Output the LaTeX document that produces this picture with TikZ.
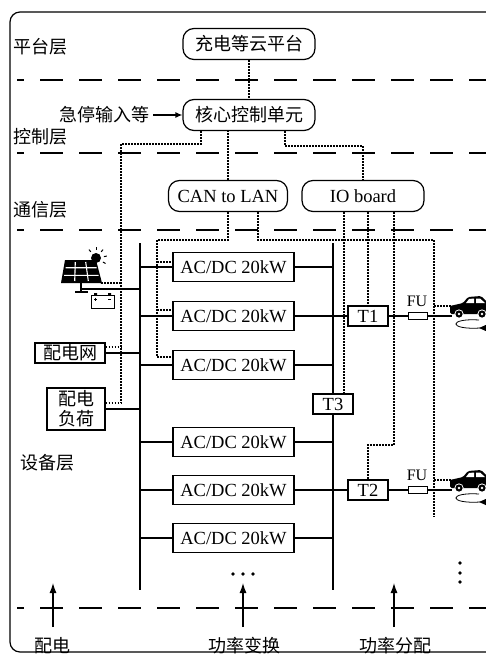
\documentclass[tikz,border=0pt]{standalone}
\usepackage{fontspec}
\setmainfont{Liberation Serif}
\newfontfamily\cjk{Noto Sans CJK SC}
\usetikzlibrary{arrows.meta}

\begin{document}
\begin{tikzpicture}[x=1pt,y=-1pt,
  font=\fontsize{18.5}{20}\selectfont,
  zh/.style={font=\cjk\fontsize{18}{20}\selectfont},
  layer/.style={line width=1.6pt,dash pattern=on 23pt off 16pt,dash phase=16pt},
  cloud/.style={draw,line width=1.2pt,rounded corners=11pt,minimum width=132pt,minimum height=31pt,inner sep=0pt},
  conv/.style={draw,line width=1.2pt,fill=white,minimum width=121pt,minimum height=29pt,inner sep=0pt},
  tbox/.style={draw,line width=1.2pt,fill=white,minimum width=40pt,minimum height=20pt,inner sep=0pt},
  fuse/.style={draw,line width=1pt,fill=white,minimum width=19pt,minimum height=7pt,inner sep=0pt},
  ctrl/.style={line width=1.3pt,dash pattern=on 1.7pt off 1.3pt},
  bus/.style={line width=1.1pt},
  up/.style={line width=1.2pt,-{Latex[length=10pt,width=7pt]}}]
\useasboundingbox (0,0) rectangle (486,658);
\clip (0,0) rectangle (486,658);
\draw[line width=1.2pt,rounded corners=10pt] (10,12) rectangle (530,652);

% layers
\foreach \y in {80,153,230,608}
  \draw[layer] (17,\y) -- (500,\y);
\node[zh] (lplat) at (40.5,47) {平台层};
\node[zh] (lctrl) at (40.5,137) {控制层};
\node[zh] (lcomm) at (40.5,210) {通信层};
\node[zh] (ldev) at (47,463) {设备层};

% platform, control, communication
\node[cloud,zh] (cloud) at (249,44) {充电等云平台};
\node[cloud,zh] (core) at (249,115) {核心控制单元};
\node[zh,anchor=east] (estop) at (153,115) {急停输入等};
\draw[line width=1.2pt,-{Latex[length=7pt,width=6pt]}] (estop) -- (core);
\node[cloud,minimum width=119pt] (can) at (228,196) {CAN to LAN};
\node[cloud,minimum width=122pt] (io) at (363,196) {IO board};

% buses and converters
\draw[bus] (140,243) -- (140,590);
\draw[bus] (333,243) -- (333,590);
\foreach \y/\n in {267/1,316/2,365/3,442/4,490/5,538/6}{
  \node[conv] (ac\n) at (233.5,\y) {AC/DC 20kW};
  \draw[bus] (140,\y) -- (ac\n.west);
  \draw[bus] (ac\n.east) -- (333,\y);
}
\node[tbox] (t3) at (333,404) {T3};
\foreach \y/\n in {316/1,490/2}{
  \node[tbox] (t\n) at (368,\y) {T\n};
  \node[fuse] (fu\n) at (417.5,\y) {};
  \node[font=\fontsize{16}{16}\selectfont] (fl\n) at (417,\y-15) {FU};
  \coordinate (ev\n) at (452,\y);
  \draw[bus] (333,\y) -- (t\n.west);
  \draw[bus] (t\n.east) -- (fu\n.west);
  \draw[bus] (fu\n.east) -- (ev\n);
}

% sources
\node[draw,zh,line width=1.2pt,minimum width=70pt,minimum height=20pt,inner sep=0pt] (grid) at (70,353) {配电网};
\node[draw,zh,line width=1.2pt,align=center,minimum width=58pt,minimum height=42pt,inner sep=0pt] (load) at (76,409) {配电\\负荷};
\coordinate (pv) at (82,289);
\draw[bus] (pv) -- (140,289);
\draw[bus] (grid.east) -- (140,353);
\draw[bus] (load.east) -- (140,409);

% solar panel and battery
\fill (96,258) circle (5);
\foreach \a in {-10,-50,-90,-130,30}
  \draw[line width=1pt] ([shift={(\a:8)}]96,258) -- ([shift={(\a:11)}]96,258);
\fill (65,260) -- (96,260) -- (102,283) -- (61,283) -- cycle;
\draw[white,line width=1.1pt] (65.5,267.7) -- (96.5,267.7) (64,275.3) -- (98.5,275.3)
  (75.3,262) -- (74.7,281) (85.7,262) -- (88.3,281);
\draw[line width=1.6pt] (81,283) -- (81,292);
\draw[line width=2pt] (75,292) -- (88,292);
\draw[line width=0.8pt] (91,295) rectangle (114,308);
\fill (94,293) rectangle (97,295) (108,293) rectangle (111,295);
\draw[line width=0.5pt] (94,299) -- (97,299) (95.5,297.5) -- (95.5,300.5) (108,299) -- (111,299);

% cars
\foreach \dy in {0,174}{
\begin{scope}[shift={(0,\dy)}]
  \fill[rounded corners=1.5pt] (450,314) -- (450,306) -- (463,303) -- (468,297) -- (481,296) -- (488,303) -- (495,305) -- (495,314) -- cycle;
  \fill[white] (469,299) -- (474,298.5) -- (474,303) -- (466,303) -- cycle;
  \fill[white] (476,298.5) -- (480,298.5) -- (485,303) -- (476,303) -- cycle;
  \foreach \wx in {459,482}{
    \fill[white] (\wx,314) circle (4.6);
    \fill (\wx,314) circle (3.6);
    \fill[white] (\wx,314) circle (1.3);
  }
  \draw[line width=0.8pt] (479,320) .. controls (448,318) and (448,330) .. (480,328);
  \fill (479,328) -- (488,324) -- (488,332) -- cycle;
\end{scope}
}

% control lines
\draw[ctrl] (cloud.south) -- (core.north);
\draw[ctrl] ([xshift=-48pt]core.south) |- (121,144) -- (121,403);
\draw[ctrl] (121,283) -- (100,283);
\draw[ctrl] ([yshift=6pt]grid.east) -- (121,347);
\draw[ctrl] ([yshift=6pt]load.east) -- (121,403);
\draw[ctrl] (can.north) -- (can.north |- core.south);
\draw[ctrl] ([xshift=36pt]core.south) |- (363,146) -- (io.north);
\draw[ctrl] (can.south) |- (157,240) |- ([yshift=8pt]ac3.west);
\draw[ctrl] (157,262) -- ([yshift=5pt]ac1.west);
\draw[ctrl] (157,310) -- ([yshift=6pt]ac2.west);
\draw[ctrl] ([xshift=30pt]can.south) |- (434,240) -- (434,517);
\draw[ctrl] (434,306) -- (452,306);
\draw[ctrl] (434,480) -- (452,480);
\draw[ctrl] ([xshift=-19pt]io.south) -- ([xshift=-19pt]io.south |- t3.north);
\draw[ctrl] (t1.north |- io.south) -- (t1.north);
\draw[ctrl] ([xshift=31pt]io.south) |- (368,445) -- (t2.north);

% ellipsis and layer arrows
\foreach \x in {233,243,253}
  \fill (\x,574) circle (1.8);
\foreach \y in {563,573,582}
  \fill (460,\y) circle (1.8);
\draw[up] (53,627) -- (53,583);
\draw[up] (243,627) -- (243,583);
\draw[up] (394,627) -- (394,583);
\node[zh] (bdist) at (52,646) {配电};
\node[zh] (bconv) at (244,646) {功率变换};
\node[zh] (balloc) at (395,646) {功率分配};
\end{tikzpicture}
\end{document}
